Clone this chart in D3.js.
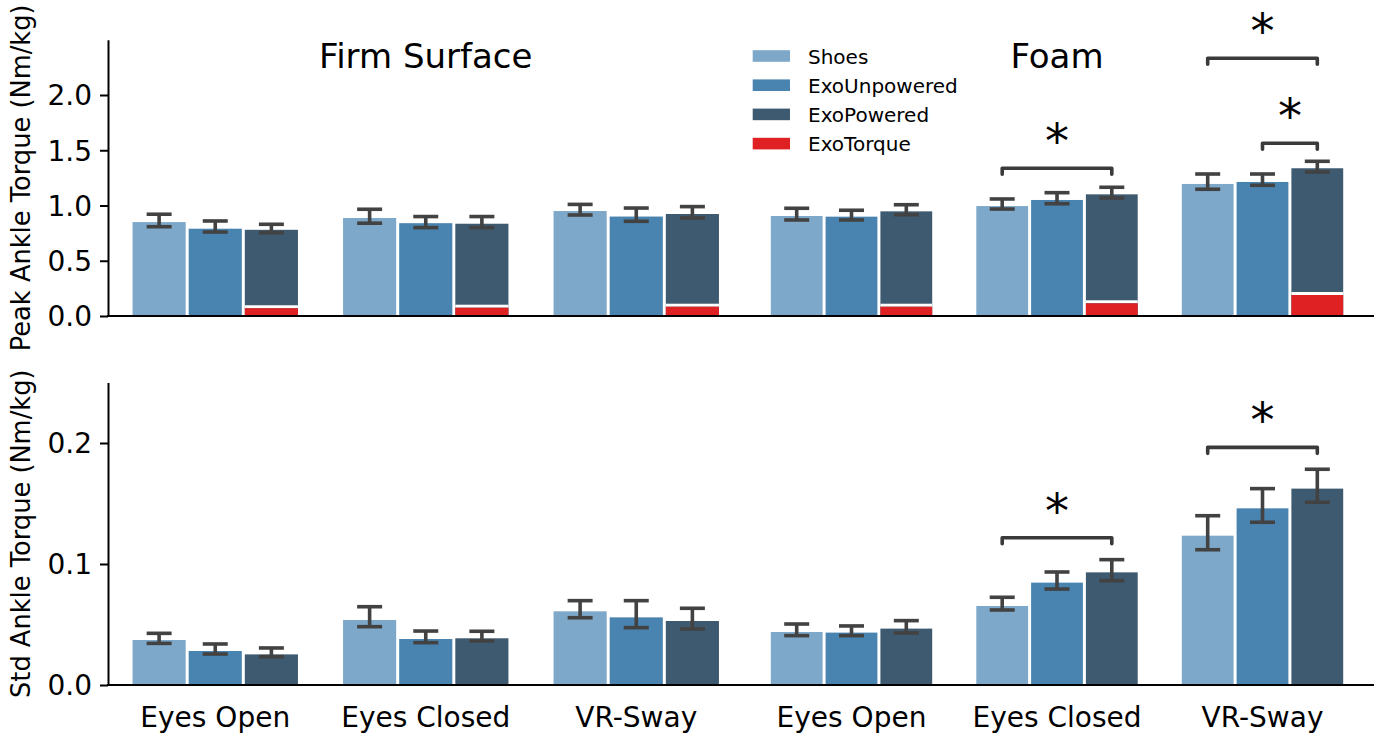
<!DOCTYPE html>
<html>
<head>
<meta charset="utf-8">
<script src="https://cdn.jsdelivr.net/npm/d3@7"></script>
<style>
  html, body { margin: 0; padding: 0; background: #fff; }
  svg { display: block; font-family: "DejaVu Sans", sans-serif; }
</style>
</head>
<body>
<svg id="chart" width="1380" height="734"></svg>
<script>
// Conditions are listed firm surface first (EO, EC, VR), then foam (EO, EC, VR)
const conditions = ["Eyes Open", "Eyes Closed", "VR-Sway"];
const surfaceTitles = ["Firm Surface", "Foam"];
const seriesNames = ["Shoes", "ExoUnpowered", "ExoPowered"];
const torqueName = "ExoTorque";
const seriesColors = ["#7ea8c9", "#4983af", "#3e5a70"];
const torqueColor = "#e02124";

// Peak ankle torque (Nm/kg)
const peakShoes      = [0.850, 0.887, 0.950, 0.905, 0.995, 1.195];
const peakUnpowered  = [0.790, 0.840, 0.900, 0.899, 1.050, 1.213];
const peakPowered    = [0.780, 0.835, 0.923, 0.947, 1.101, 1.337];
const peakTorque     = [0.070, 0.075, 0.084, 0.084, 0.115, 0.190];
const peakShoesCI     = [[0.808, 0.921], [0.840, 0.966], [0.914, 1.010], [0.869, 0.975], [0.968, 1.059], [1.147, 1.285]];
const peakUnpoweredCI = [[0.760, 0.860], [0.800, 0.900], [0.857, 0.977], [0.869, 0.957], [1.016, 1.116], [1.183, 1.285]];
const peakPoweredCI   = [[0.754, 0.830], [0.800, 0.900], [0.887, 0.990], [0.917, 1.007], [1.068, 1.165], [1.303, 1.400]];

// Std of ankle torque (Nm/kg)
const stdShoes      = [0.0372, 0.0537, 0.0609, 0.0438, 0.0653, 0.1234];
const stdUnpowered  = [0.0281, 0.0380, 0.0559, 0.0433, 0.0846, 0.1460];
const stdPowered    = [0.0253, 0.0386, 0.0529, 0.0466, 0.0931, 0.1623];
const stdShoesCI     = [[0.0344, 0.0427], [0.0482, 0.0647], [0.0556, 0.0697], [0.0408, 0.0504], [0.0620, 0.0725], [0.1118, 0.1399]];
const stdUnpoweredCI = [[0.0256, 0.0339], [0.0350, 0.0446], [0.0474, 0.0697], [0.0408, 0.0488], [0.0793, 0.0934], [0.1345, 0.1623]];
const stdPoweredCI   = [[0.0234, 0.0306], [0.0364, 0.0444], [0.0463, 0.0634], [0.0430, 0.0532], [0.0862, 0.1036], [0.1510, 0.1783]];

// Significance brackets: condition index, compared series, bracket level (data units)
const peakSigCond  = [4, 5, 5];
const peakSigPairs = [[0, 2], [0, 2], [1, 2]];
const peakSigLevel = [1.337, 2.332, 1.563];
const stdSigCond   = [4, 5];
const stdSigPairs  = [[0, 2], [0, 2]];
const stdSigLevel  = [0.1217, 0.1964];

const peakTicks = [0, 0.5, 1.0, 1.5, 2.0];
const stdTicks = [0, 0.1, 0.2];

const svg = d3.select("#chart");
const ink = "#000";
const errColor = "#424242";

// Horizontal layout: two side-by-side sub-axes (firm / foam)
const subRanges = [[110, 741.5], [748.75, 1365.25]];
const groupScales = subRanges.map(r => d3.scaleBand().domain(conditions).range(r).padding(0));
const seriesScales = groupScales.map(g => {
  const bw = g.bandwidth();
  return d3.scaleBand().domain(seriesNames).range([0.1 * bw, 0.9 * bw]).padding(0);
});
function barLeft(ci, si) {
  const s = ci < 3 ? 0 : 1;
  return groupScales[s](conditions[ci % 3]) + seriesScales[s](seriesNames[si]);
}
function barStep(ci) { return seriesScales[ci < 3 ? 0 : 1].bandwidth(); }
function barCenter(ci, si) { return barLeft(ci, si) + barStep(ci) / 2; }
function groupCenter(ci) {
  const s = ci < 3 ? 0 : 1;
  return groupScales[s](conditions[ci % 3]) + groupScales[s].bandwidth() / 2;
}

const panels = [
  {
    y: d3.scaleLinear().domain([0, 2.5]).range([316, 39.75]),
    values: [peakShoes, peakUnpowered, peakPowered],
    cis: [peakShoesCI, peakUnpoweredCI, peakPoweredCI],
    torque: peakTorque,
    ticks: peakTicks,
    label: "Peak Ankle Torque (Nm/kg)",
    sigCond: peakSigCond, sigPairs: peakSigPairs, sigLevel: peakSigLevel,
    xLabels: false
  },
  {
    y: d3.scaleLinear().domain([0, 0.25]).range([685, 382.5]),
    values: [stdShoes, stdUnpowered, stdPowered],
    cis: [stdShoesCI, stdUnpoweredCI, stdPoweredCI],
    torque: null,
    ticks: stdTicks,
    label: "Std Ankle Torque (Nm/kg)",
    sigCond: stdSigCond, sigPairs: stdSigPairs, sigLevel: stdSigLevel,
    xLabels: true
  }
];

const nCond = 6;
panels.forEach(p => {
  const g = svg.append("g");
  const y = p.y;

  // bars
  for (let si = 0; si < seriesNames.length; si++) {
    g.append("g").selectAll("rect")
      .data(d3.range(nCond))
      .join("rect")
      .attr("x", ci => barLeft(ci, si) + 1.5)
      .attr("width", ci => barStep(ci) - 3)
      .attr("y", ci => y(p.values[si][ci]))
      .attr("height", ci => y(0) - y(p.values[si][ci]))
      .attr("fill", seriesColors[si]);
  }

  // exoskeleton torque contribution overlaid on the powered bar
  if (p.torque) {
    const tg = g.append("g");
    tg.selectAll("rect.gap")
      .data(d3.range(nCond))
      .join("rect")
      .attr("class", "gap")
      .attr("x", ci => barLeft(ci, 2) + 1.5)
      .attr("width", ci => barStep(ci) - 3)
      .attr("y", ci => y(p.torque[ci]) - 3)
      .attr("height", 3)
      .attr("fill", "#fff");
    tg.selectAll("rect.tq")
      .data(d3.range(nCond))
      .join("rect")
      .attr("class", "tq")
      .attr("x", ci => barLeft(ci, 2) + 1.5)
      .attr("width", ci => barStep(ci) - 3)
      .attr("y", ci => y(p.torque[ci]))
      .attr("height", ci => y(0) - y(p.torque[ci]))
      .attr("fill", torqueColor);
  }

  // confidence-interval error bars
  const eg = g.append("g").attr("stroke", errColor).attr("stroke-width", 3.6).attr("fill", "none");
  for (let si = 0; si < seriesNames.length; si++) {
    for (let ci = 0; ci < nCond; ci++) {
      const cx = barCenter(ci, si);
      const [lo, hi] = p.cis[si][ci];
      eg.append("line").attr("x1", cx).attr("x2", cx).attr("y1", y(lo)).attr("y2", y(hi));
      eg.append("line").attr("x1", cx - 12.5).attr("x2", cx + 12.5).attr("y1", y(lo)).attr("y2", y(lo));
      eg.append("line").attr("x1", cx - 12.5).attr("x2", cx + 12.5).attr("y1", y(hi)).attr("y2", y(hi));
    }
  }

  // y axis
  const yAxis = d3.axisLeft(y).tickValues(p.ticks).tickFormat(d3.format(".1f"))
    .tickSize(8).tickSizeOuter(0).tickPadding(8);
  const ag = g.append("g").attr("transform", "translate(108,0)").call(yAxis);
  ag.select(".domain").attr("stroke", ink).attr("stroke-width", 2);
  ag.selectAll(".tick line").attr("stroke", ink).attr("stroke-width", 2);
  ag.selectAll(".tick text")
    .attr("fill", ink)
    .attr("font-size", "28px")
    .attr("font-family", "DejaVu Sans")
    .attr("dy", "0.35em");

  // bottom spines of the two sub-axes
  g.append("line").attr("x1", 107).attr("x2", 742).attr("y1", y(0)).attr("y2", y(0))
    .attr("stroke", ink).attr("stroke-width", 2);
  g.append("line").attr("x1", 742).attr("x2", 1374).attr("y1", y(0)).attr("y2", y(0))
    .attr("stroke", ink).attr("stroke-width", 2);

  // y label
  const midY = (y.range()[0] + y.range()[1]) / 2;
  g.append("text")
    .attr("transform", `translate(30,${midY}) rotate(-90)`)
    .attr("text-anchor", "middle")
    .attr("font-size", "25.7px")
    .attr("fill", ink)
    .text(p.label);

  // significance brackets
  const bg = g.append("g");
  p.sigCond.forEach((ci, k) => {
    const [a, b] = p.sigPairs[k];
    const x1 = barCenter(ci, a), x2 = barCenter(ci, b);
    const yl = y(p.sigLevel[k]);
    bg.append("path")
      .attr("d", `M${x1},${yl + 6}V${yl}H${x2}V${yl + 6}`)
      .attr("fill", "none")
      .attr("stroke", "#3a3a3a")
      .attr("stroke-width", 3.6)
      .attr("stroke-linejoin", "round")
      .attr("stroke-linecap", "round");
    bg.append("text")
      .attr("x", (x1 + x2) / 2)
      .attr("y", yl - 36 + 26)
      .attr("text-anchor", "middle")
      .attr("font-size", "48px")
      .attr("fill", ink)
      .text("*");
  });

  // condition labels
  if (p.xLabels) {
    g.append("g").selectAll("text")
      .data(d3.range(nCond))
      .join("text")
      .attr("x", ci => groupCenter(ci))
      .attr("y", 727)
      .attr("text-anchor", "middle")
      .attr("font-size", "28px")
      .attr("fill", ink)
      .text(ci => conditions[ci % 3]);
  }
});

// surface titles
svg.append("g").selectAll("text")
  .data(surfaceTitles)
  .join("text")
  .attr("x", (d, i) => groupCenter(i * 3 + 1))
  .attr("y", 68)
  .attr("text-anchor", "middle")
  .attr("font-size", "34px")
  .attr("fill", ink)
  .text(d => d);

// legend
const legendItems = seriesNames.concat([torqueName]);
const legendColors = seriesColors.concat([torqueColor]);
const lg = svg.append("g").attr("transform", "translate(752.7,56)");
const rows = lg.selectAll("g").data(legendItems).join("g")
  .attr("transform", (d, i) => `translate(0,${i * 29.2})`);
rows.append("rect").attr("x", 0).attr("y", -5.8).attr("width", 37.3).attr("height", 11.6)
  .attr("fill", (d, i) => legendColors[i]);
rows.append("text").attr("x", 55.3).attr("y", 7.6)
  .attr("font-size", "20px").attr("fill", ink).text(d => d);
</script>
</body>
</html>
